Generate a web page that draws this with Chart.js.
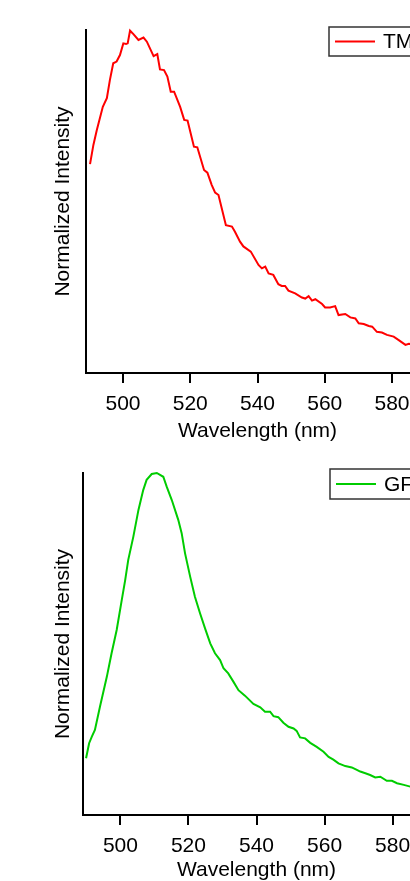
<!DOCTYPE html>
<html><head><meta charset="utf-8">
<script src="https://cdn.jsdelivr.net/npm/chart.js@4.4.1/dist/chart.umd.min.js"></script>
<style>
html,body{margin:0;padding:0;background:#fff;overflow:hidden;width:410px;height:881px;position:relative;}
.box{position:absolute;left:0;width:450px;}
#c1box{top:0;height:445px;}
#c2box{top:445px;height:438px;}
</style></head><body>
<div class="box" id="c1box"><canvas id="c1"></canvas></div>
<div class="box" id="c2box"><canvas id="c2"></canvas></div>
<script>
const xTickValues = [500, 520, 540, 560, 580];
const xTitle = 'Wavelength (nm)';
const yTitle = 'Normalized Intensity';

const tmrLabel = 'TMR';
const tmrWavelength = [490.2,491.2,492.2,494.0,495.2,496.1,497.1,498.1,499.1,500.1,500.9,501.4,502.1,503.1,504.6,506.1,507.1,509.1,510.2,511.0,512.2,513.2,514.2,515.2,517.0,518.2,519.2,521.1,522.1,524.1,525.1,526.4,527.4,528.4,530.6,532.4,533.3,534.8,535.8,538.0,540.3,541.3,542.3,543.3,544.7,546.2,547.2,548.2,549.2,551.2,553.2,554.2,555.2,556.2,557.2,559.2,560.1,561.6,563.1,564.1,566.1,567.6,569.1,570.1,571.6,573.1,574.1,575.5,577.0,578.5,580.5,582.0,584.0,585.0,586.5];
const tmrIntensity = [0.609,0.665,0.708,0.776,0.801,0.854,0.903,0.908,0.927,0.961,0.959,0.961,0.998,0.988,0.971,0.978,0.966,0.924,0.930,0.885,0.883,0.864,0.820,0.820,0.776,0.738,0.736,0.660,0.658,0.592,0.584,0.548,0.526,0.519,0.431,0.427,0.412,0.383,0.369,0.354,0.315,0.305,0.310,0.290,0.286,0.259,0.254,0.254,0.240,0.232,0.220,0.217,0.224,0.211,0.215,0.201,0.191,0.191,0.195,0.169,0.172,0.162,0.159,0.145,0.143,0.137,0.135,0.120,0.118,0.111,0.106,0.096,0.082,0.085,0.083];

const gfpLabel = 'GFP';
const gfpWavelength = [489.9,490.8,491.6,492.5,494.0,496.0,497.4,498.9,500.4,501.4,502.3,503.8,505.3,506.7,507.7,509.2,510.7,512.6,513.6,515.1,517.0,518.0,519.0,520.5,521.9,523.4,524.9,526.4,527.8,529.3,530.3,531.7,533.2,534.7,536.6,539.1,541.1,542.5,544.0,545.0,546.4,547.9,549.4,550.9,551.8,552.8,554.3,555.8,557.7,559.7,561.2,562.6,564.1,566.1,568.0,569.5,570.5,572.0,573.4,574.9,576.4,578.3,579.8,581.3,583.3,585.2,587.0];
const gfpIntensity = [0.166,0.210,0.229,0.249,0.317,0.404,0.473,0.541,0.629,0.687,0.746,0.814,0.892,0.950,0.980,0.997,1.000,0.989,0.960,0.921,0.863,0.824,0.765,0.697,0.638,0.590,0.545,0.502,0.473,0.453,0.429,0.414,0.390,0.365,0.349,0.325,0.315,0.302,0.302,0.289,0.286,0.270,0.258,0.253,0.246,0.227,0.224,0.211,0.199,0.185,0.170,0.162,0.151,0.143,0.139,0.132,0.127,0.122,0.117,0.110,0.112,0.100,0.100,0.093,0.088,0.083,0.080];

const FONT = '"Liberation Sans", Arial, sans-serif';

const legendBox = {
  id: 'legendBox',
  afterDraw(chart, args, opts) {
    const ctx = chart.ctx, a = chart.chartArea, ds = chart.data.datasets[0];
    const x = a.right - 100, y = a.top + opts.dy, w = 112, h = opts.h;
    ctx.save();
    ctx.fillStyle = '#fff';
    ctx.fillRect(x, y, w, h);
    ctx.strokeStyle = '#333';
    ctx.lineWidth = 1.5;
    ctx.strokeRect(x, y, w, h);
    ctx.strokeStyle = ds.borderColor;
    ctx.lineWidth = 2;
    ctx.beginPath();
    ctx.moveTo(x + 6, y + h / 2);
    ctx.lineTo(x + 46, y + h / 2);
    ctx.stroke();
    ctx.fillStyle = '#000';
    ctx.font = '21px ' + FONT;
    ctx.textBaseline = 'middle';
    ctx.fillText(ds.label, x + 54, y + h / 2 + 1);
    ctx.restore();
  }
};

function makeChart(id, cfg) {
  return new Chart(document.getElementById(id), {
    type: 'line',
    data: {
      datasets: [{
        label: cfg.label,
        data: cfg.wl.map((w, i) => ({x: w, y: cfg.val[i]})),
        borderColor: cfg.color,
        borderWidth: 2,
        pointRadius: 0,
        tension: 0,
        fill: false,
        clip: false
      }]
    },
    options: {
      responsive: true,
      maintainAspectRatio: false,
      animation: false,
      devicePixelRatio: 1,
      layout: {padding: {top: cfg.top, left: 0, right: cfg.right, bottom: 0}},
      plugins: {
        legend: {display: false},
        tooltip: {enabled: false},
        legendBox: {dy: cfg.legendDy, h: cfg.legendH}
      },
      scales: {
        x: {
          type: 'linear',
          min: 489, max: 591,
          afterBuildTicks: s => { s.ticks = xTickValues.map(v => ({value: v})); },
          afterFit: s => { s.height = cfg.xHeight; },
          ticks: {color: '#000', font: {size: 21, family: FONT}, padding: 9, maxRotation: 0},
          grid: {display: true, drawOnChartArea: false, drawTicks: true, tickLength: 10, color: '#000', lineWidth: 2},
          border: {display: true, color: '#000', width: 2},
          title: {display: true, text: xTitle, color: '#000', font: {size: 21, family: FONT}, padding: {top: 0, bottom: cfg.xTitlePad}}
        },
        y: {
          min: 0, max: 1,
          afterFit: s => { s.width = cfg.left; },
          ticks: {display: false},
          grid: {display: false},
          border: {display: true, color: '#000', width: 2},
          title: {display: true, text: yTitle, color: '#000', font: {size: 21, family: FONT}, padding: {top: 51, bottom: 0}}
        }
      }
    },
    plugins: [legendBox]
  });
}

makeChart('c1', {label: tmrLabel, color: '#ff0000', wl: tmrWavelength, val: tmrIntensity,
  top: 30, right: 21, left: 86, xHeight: 445 - 373, xTitlePad: 1.4, legendDy: -3, legendH: 29});
makeChart('c2', {label: gfpLabel, color: '#00cc00', wl: gfpWavelength, val: gfpIntensity,
  top: 28, right: 20, left: 83, xHeight: 438 - 370, xTitlePad: 0.4, legendDy: -4, legendH: 30});
</script>
</body></html>
